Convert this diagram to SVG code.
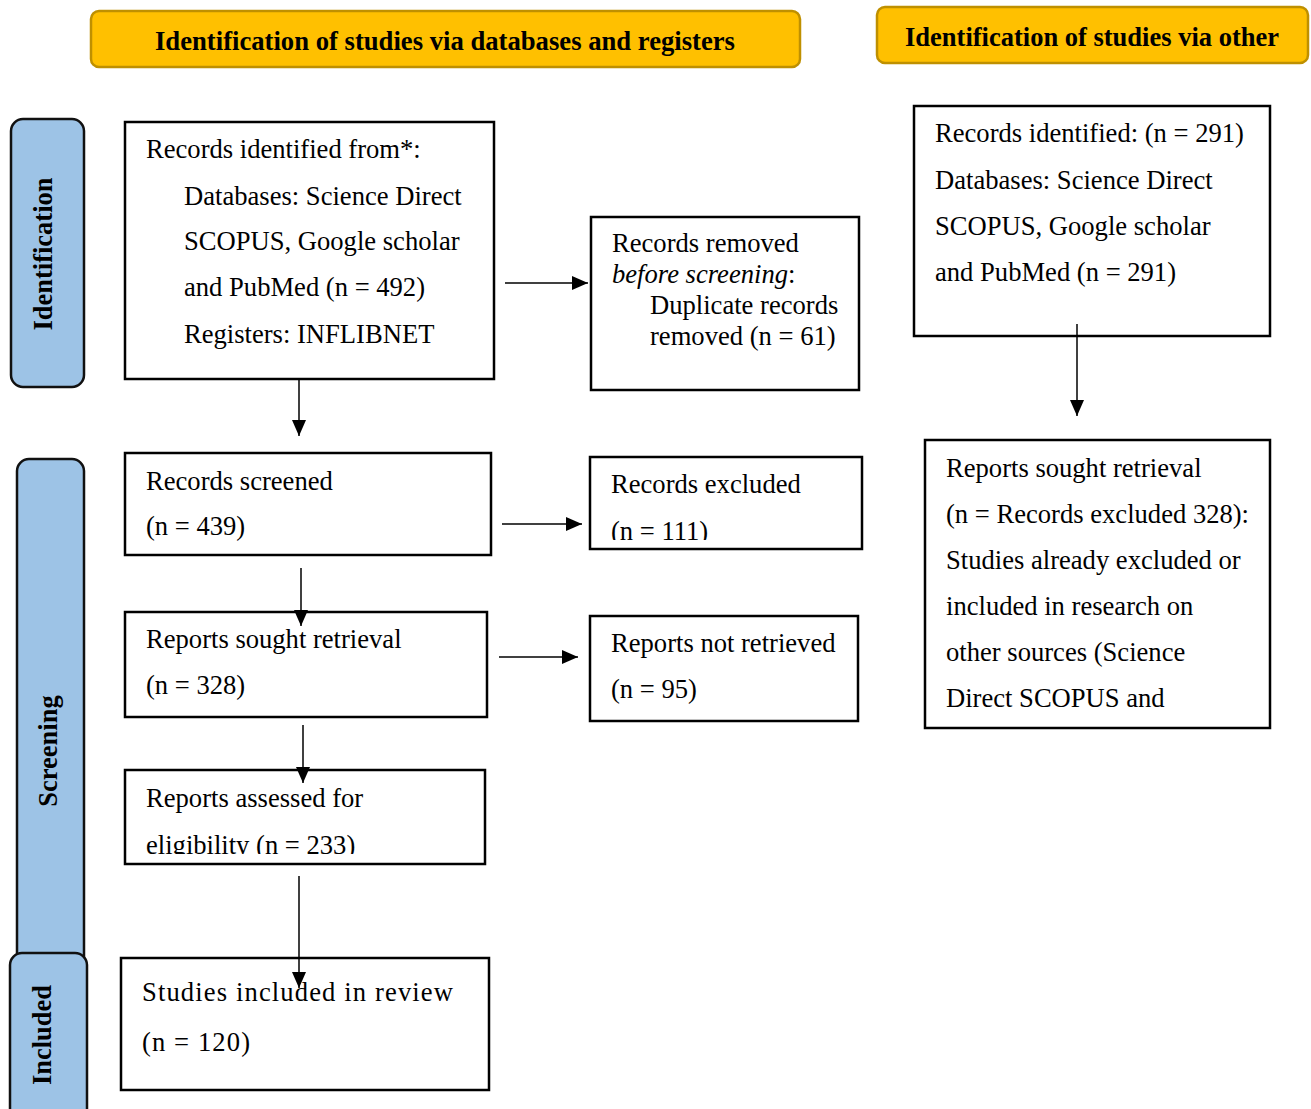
<svg xmlns="http://www.w3.org/2000/svg" width="1311" height="1109" viewBox="0 0 1311 1109">
<style>
.hdr{fill:#FFC000;stroke:#BF9000;stroke-width:2.5}
.side{fill:#9DC3E6;stroke:#111;stroke-width:2.5}
.box{fill:#fff;stroke:#000;stroke-width:2.5}
.ht{font-family:"Liberation Serif",serif;font-weight:bold;font-size:26.5px;fill:#000}
.st{font-family:"Liberation Serif",serif;font-weight:bold;font-size:26.5px;fill:#000}
.t{font-family:"Liberation Serif",serif;font-size:26.6px;fill:#000}
.conn{stroke:#000;stroke-width:1.5;fill:none}
</style>
<defs>
<marker id="ahL" viewBox="0 0 10 10" refX="10" refY="5" markerWidth="16" markerHeight="14" markerUnits="userSpaceOnUse" orient="auto" preserveAspectRatio="none">
<path d="M0,0 L10,5 L0,10 Z" fill="#000"/>
</marker>
<clipPath id="c4"><rect x="590" y="457" width="272" height="83"/></clipPath>
<clipPath id="c7"><rect x="125" y="770" width="360" height="84"/></clipPath>
</defs>

<g id="header-databases">
<rect class="hdr" x="91" y="11" width="709" height="56" rx="8"/>
<text class="ht" x="445" y="50" text-anchor="middle" font-size="30" textLength="580" lengthAdjust="spacingAndGlyphs">Identification of studies via databases and registers</text>
</g>
<g id="header-other">
<rect class="hdr" x="877" y="7" width="431" height="56" rx="8"/>
<text class="ht" x="1092" y="46" text-anchor="middle">Identification of studies via other</text>
</g>

<g id="side-identification">
<rect class="side" x="11" y="119" width="73" height="268" rx="12"/>
<text class="st" transform="translate(52,254) rotate(-90)" text-anchor="middle">Identification</text>
</g>
<g id="side-screening">
<rect class="side" x="17" y="459" width="67" height="520" rx="12"/>
<text class="st" transform="translate(57,751) rotate(-90)" text-anchor="middle">Screening</text>
</g>
<g id="side-included">
<rect class="side" x="10" y="953" width="77" height="170" rx="12"/>
<text class="st" transform="translate(51,1035) rotate(-90)" text-anchor="middle">Included</text>
</g>

<g id="records-identified">
<rect class="box" x="125" y="122" width="369" height="257"/>
<text class="t" x="146" y="158">Records identified from*:</text>
<text class="t" x="184" y="205">Databases: Science Direct</text>
<text class="t" x="184" y="250">SCOPUS, Google scholar</text>
<text class="t" x="184" y="296">and PubMed (n = 492)</text>
<text class="t" x="184" y="343">Registers: INFLIBNET</text>
</g>
<g id="records-removed">
<rect class="box" x="591" y="217" width="268" height="173"/>
<text class="t" x="612" y="252">Records removed</text>
<text class="t" x="612" y="283"><tspan font-style="italic">before screening</tspan>:</text>
<text class="t" x="650" y="314">Duplicate records</text>
<text class="t" x="650" y="345">removed (n = 61)</text>
</g>
<g id="records-screened">
<rect class="box" x="125" y="453" width="366" height="102"/>
<text class="t" x="146" y="490">Records screened</text>
<text class="t" x="146" y="535">(n = 439)</text>
</g>
<g id="records-excluded">
<rect class="box" x="590" y="457" width="272" height="92"/>
<text class="t" x="611" y="493">Records excluded</text>
<text class="t" x="611" y="540" clip-path="url(#c4)">(n = 111)</text>
</g>
<g id="reports-sought">
<rect class="box" x="125" y="612" width="362" height="105"/>
<text class="t" x="146" y="648">Reports sought retrieval</text>
<text class="t" x="146" y="694">(n = 328)</text>
</g>
<g id="reports-not-retrieved">
<rect class="box" x="590" y="616" width="268" height="105"/>
<text class="t" x="611" y="652">Reports not retrieved</text>
<text class="t" x="611" y="698">(n = 95)</text>
</g>
<g id="reports-assessed">
<rect class="box" x="125" y="770" width="360" height="94"/>
<text class="t" x="146" y="807">Reports assessed for</text>
<text class="t" x="146" y="854" clip-path="url(#c7)">eligibility (n = 233)</text>
</g>
<g id="studies-included">
<rect class="box" x="121" y="958" width="368" height="132"/>
<text class="t" x="142" y="1001" font-size="32" textLength="311" lengthAdjust="spacing">Studies included in review</text>
<text class="t" x="142" y="1051" font-size="32" textLength="108" lengthAdjust="spacing">(n = 120)</text>
</g>
<g id="other-records-identified">
<rect class="box" x="914" y="106" width="356" height="230"/>
<text class="t" x="935" y="142">Records identified: (n = 291)</text>
<text class="t" x="935" y="189">Databases: Science Direct</text>
<text class="t" x="935" y="235">SCOPUS, Google scholar</text>
<text class="t" x="935" y="281">and PubMed (n = 291)</text>
</g>
<g id="other-reports-sought">
<rect class="box" x="925" y="440" width="345" height="288"/>
<text class="t" x="946" y="477">Reports sought retrieval</text>
<text class="t" x="946" y="523">(n = Records excluded 328):</text>
<text class="t" x="946" y="569">Studies already excluded or</text>
<text class="t" x="946" y="615">included in research on</text>
<text class="t" x="946" y="661">other sources (Science</text>
<text class="t" x="946" y="707">Direct SCOPUS and</text>
</g>

<g id="connectors">
<line class="conn" x1="505" y1="283" x2="588" y2="283" marker-end="url(#ahL)"/>
<line class="conn" x1="299" y1="380" x2="299" y2="436" marker-end="url(#ahL)"/>
<line class="conn" x1="502" y1="524" x2="582" y2="524" marker-end="url(#ahL)"/>
<line class="conn" x1="301" y1="568" x2="301" y2="626" marker-end="url(#ahL)"/>
<line class="conn" x1="499" y1="657" x2="578" y2="657" marker-end="url(#ahL)"/>
<line class="conn" x1="303" y1="725" x2="303" y2="783" marker-end="url(#ahL)"/>
<line class="conn" x1="1077" y1="324" x2="1077" y2="416" marker-end="url(#ahL)"/>
<line class="conn" x1="299" y1="876" x2="299" y2="988" marker-end="url(#ahL)"/>
</g>
</svg>
